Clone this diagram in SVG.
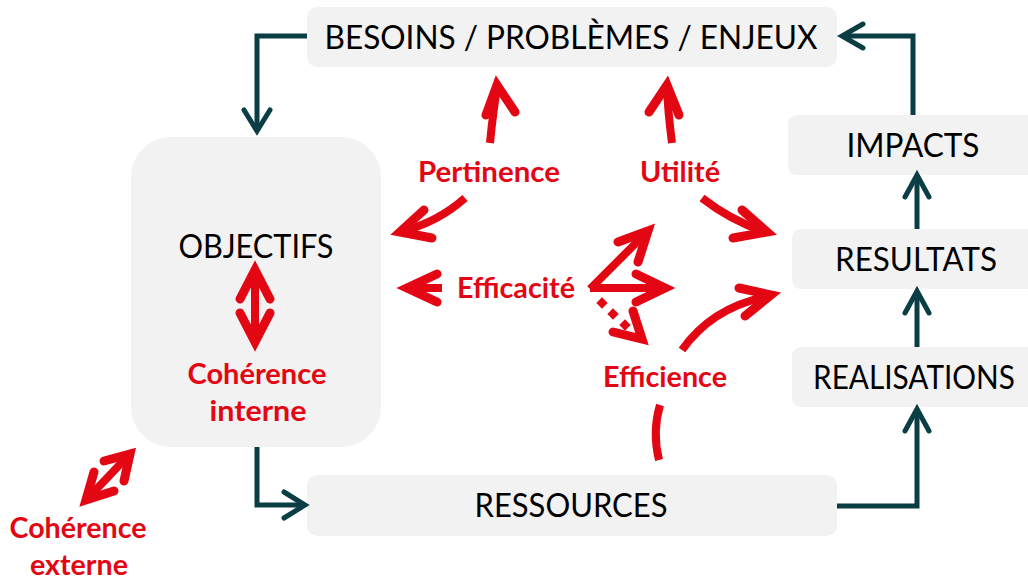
<svg xmlns="http://www.w3.org/2000/svg" width="1028" height="580" viewBox="0 0 1028 580">
<style>
.box{fill:#f2f2f2}
.lbl{font-family:Lato,"Open Sans","Liberation Sans",sans-serif;font-size:33px;fill:#000;text-anchor:middle}
.red{font-family:Lato,"Open Sans","Liberation Sans",sans-serif;font-size:28px;font-weight:bold;fill:#e30613;text-anchor:middle}
.tl{fill:none;stroke:#0b3d45;stroke-width:5}
.th{fill:none;stroke:#0b3d45;stroke-width:5;stroke-linecap:round;stroke-linejoin:miter}
.rs{fill:none;stroke:#e30613;stroke-width:8;stroke-linecap:butt}
.rh{fill:none;stroke:#e30613;stroke-width:9;stroke-linecap:round;stroke-linejoin:miter;stroke-miterlimit:10}
.dot{fill:#e30613}
</style>
<rect width="1028" height="580" fill="#fff"/>
<g id="besoins"><rect class="box" x="307" y="7" width="530" height="60" rx="10"/><text class="lbl" x="571" y="49" textLength="493" lengthAdjust="spacingAndGlyphs">BESOINS / PROBLÈMES / ENJEUX</text></g>
<g id="objectifs"><rect class="box" x="131" y="137" width="250" height="310" rx="40"/><text class="lbl" x="256" y="258" textLength="155" lengthAdjust="spacingAndGlyphs">OBJECTIFS</text></g>
<g id="impacts"><path class="box" d="M798,115 H1028 V175 H798 Q788,175 788,165 V125 Q788,115 798,115 Z"/><text class="lbl" x="913" y="157" textLength="133" lengthAdjust="spacingAndGlyphs">IMPACTS</text></g>
<g id="resultats"><path class="box" d="M802,229 H1028 V289 H802 Q792,289 792,279 V239 Q792,229 802,229 Z"/><text class="lbl" x="916" y="271" textLength="162" lengthAdjust="spacingAndGlyphs">RESULTATS</text></g>
<g id="realisations"><path class="box" d="M802,347 H1028 V407 H802 Q792,407 792,397 V357 Q792,347 802,347 Z"/><text class="lbl" x="914" y="389" textLength="202" lengthAdjust="spacingAndGlyphs">REALISATIONS</text></g>
<g id="ressources"><rect class="box" x="307" y="475" width="530" height="61" rx="10"/><text class="lbl" x="571" y="517" textLength="193" lengthAdjust="spacingAndGlyphs">RESSOURCES</text></g>
<g id="connectors">
<path class="tl" d="M307,36 H257 V128"/><polyline class="th" points="244,110 257,131 270,110"/>
<path class="tl" d="M257,447 V505 H302"/><polyline class="th" points="284,492 305,505 284,518"/>
<path class="tl" d="M837,506 H917 V411"/><polyline class="th" points="905,431 917,409 929,431"/>
<path class="tl" d="M917,347 V293"/><polyline class="th" points="905,313 917,291 929,313"/>
<path class="tl" d="M917,229 V177"/><polyline class="th" points="905,197 917,175 929,197"/>
<path class="tl" d="M913,115 V36 H845"/><polyline class="th" points="863,24 842,36 863,48"/>
</g>
<g id="pertinence">
<path class="rs" d="M490,143 Q493,112 497,88"/><polyline class="rh" points="486,115 497,85 515,112"/>
<path class="rs" d="M465,198 Q438,222 403,231"/><polyline class="rh" points="424,210 400,232 432,238"/>
<text class="red" x="489" y="182" textLength="142" lengthAdjust="spacingAndGlyphs">Pertinence</text>
</g>
<g id="utilite">
<path class="rs" d="M672,143 Q668,112 667,88"/><polyline class="rh" points="649,112 667,85 679,115"/>
<path class="rs" d="M702,198 Q730,220 765,232"/><polyline class="rh" points="742,210 767,232 733,238"/>
<text class="red" x="680" y="182" textLength="80" lengthAdjust="spacingAndGlyphs">Utilité</text>
</g>
<g id="efficacite">
<path class="rs" d="M442,288 H409"/><polyline class="rh" points="437,274 407,288 437,302"/>
<text class="red" x="516" y="298" textLength="118" lengthAdjust="spacingAndGlyphs">Efficacité</text>
<path class="rs" d="M590,289 L646,233"/><polyline class="rh" points="618,242 648,231 638,262"/>
<path class="rs" d="M590,288 H663"/><polyline class="rh" points="636,274 665,288 636,302"/>
<rect class="dot" x="-4" y="-4" width="8" height="8" transform="translate(602,303) rotate(45)"/>
<rect class="dot" x="-4" y="-4" width="8" height="8" transform="translate(613,314) rotate(45)"/>
<rect class="dot" x="-4" y="-4" width="8" height="8" transform="translate(625,325) rotate(45)"/>
<polyline class="rh" points="613,332 642,339 633,311"/>
</g>
<g id="efficience">
<path class="rs" d="M682,350 Q712,307 769,296"/><polyline class="rh" points="739,288 771,295 745,316"/>
<path class="rs" d="M660,405 Q652,432 659,460"/>
<text class="red" x="665" y="387" textLength="124" lengthAdjust="spacingAndGlyphs">Efficience</text>
</g>
<g id="coherence-interne">
<path class="rs" d="M255,273 V340"/><polyline class="rh" points="240,299 255,270 270,299"/><polyline class="rh" points="240,313 255,342 270,313"/>
<text class="red" x="257" y="384" textLength="139" lengthAdjust="spacingAndGlyphs">Cohérence</text>
<text class="red" x="258" y="421" textLength="97" lengthAdjust="spacingAndGlyphs">interne</text>
</g>
<g id="coherence-externe">
<path class="rs" d="M90,496 L126,458"/><polyline class="rh" points="104,461 130,454 124,481"/><polyline class="rh" points="94,472 86,500 114,491"/>
<text class="red" x="78" y="538" textLength="137" lengthAdjust="spacingAndGlyphs">Cohérence</text>
<text class="red" x="79" y="575" textLength="98" lengthAdjust="spacingAndGlyphs">externe</text>
</g>
</svg>
